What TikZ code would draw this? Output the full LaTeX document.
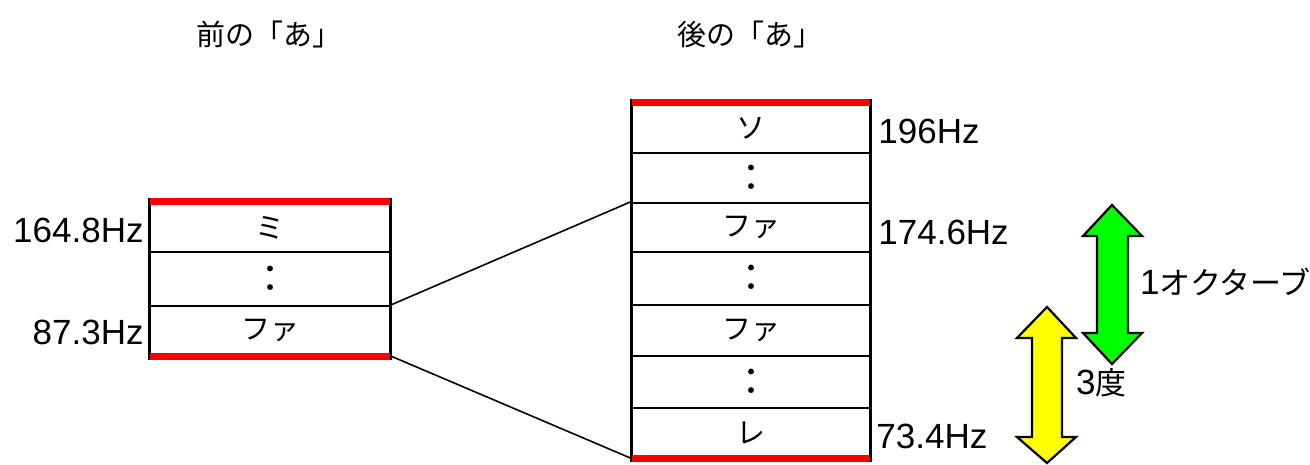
\documentclass[tikz,border=0pt]{standalone}
\usepackage{fontspec}
\setmainfont{Noto Sans CJK JP}
\newfontfamily\lat{Liberation Sans}
\begin{document}
\begin{tikzpicture}[x=1pt,y=-1pt,
  cell/.style={draw=black,line width=2.4pt,inner sep=0pt,font=\fontsize{29}{32}\selectfont},
  lcell/.style={cell,minimum width=240pt},
  rcell/.style={cell,minimum width=238pt},
  redline/.style={draw=red,line width=7pt},
  edge/.style={draw=black,line width=2.4pt},
  conn/.style={draw=black,line width=1.6pt},
  hz/.style={inner sep=0pt,font=\lat\fontsize{35}{38}\selectfont},
  jp/.style={inner sep=0pt,font=\fontsize{29}{32}\selectfont},
  jpl/.style={inner sep=0pt,font=\fontsize{31}{34}\selectfont},
  dots/.style={font=\fontsize{38}{40}\selectfont},
  arrowshape/.style={draw=black,line width=2.2pt,line join=miter}
]
\useasboundingbox (0,0) rectangle (1310,465);
% titles
\node[jp] (T1) at (269,34) {前の「あ」};
\node[jp] (T2) at (750,34) {後の「あ」};
% left column
\node[lcell,minimum height=49pt] (L1) at (270,227.5) {ミ};
\node[lcell,minimum height=54pt,dots] (L2) at (270,279) {：};
\node[lcell,minimum height=49pt] (L3) at (270,330.5) {ファ};
% right column
\node[rcell,minimum height=49pt] (R1) at (751,128.5) {ソ};
\node[rcell,minimum height=50pt,dots] (R2) at (751,178) {：};
\node[rcell,minimum height=49pt] (R3) at (751,227.5) {ファ};
\node[rcell,minimum height=53pt,dots] (R4) at (751,278.5) {：};
\node[rcell,minimum height=51pt] (R5) at (751,330.5) {ファ};
\node[rcell,minimum height=52pt,dots] (R6) at (751,382) {：};
\node[rcell,minimum height=49pt] (R7) at (751,432.5) {レ};
% red bounds
\draw[redline] (L1.north west) -- (L1.north east);
\draw[redline] (L3.south west) -- (L3.south east);
\draw[redline] (R1.north west) -- (R1.north east);
\draw[redline] (R7.south west) -- (R7.south east);
\draw[edge] ([yshift=3.5pt]L1.north west) -- ([yshift=-3.5pt]L3.south west);
\draw[edge] ([yshift=3.5pt]L1.north east) -- ([yshift=-3.5pt]L3.south east);
\draw[edge] ([yshift=3.5pt]R1.north west) -- ([yshift=-3.5pt]R7.south west);
\draw[edge] ([yshift=3.5pt]R1.north east) -- ([yshift=-3.5pt]R7.south east);
% connectors
\draw[conn] (L3.north east) -- (R3.north west);
\draw[conn] (L3.south east) -- (R7.south west);
% frequency labels
\node[hz,anchor=east] (f1) at ([xshift=-5pt,yshift=-3pt]L1.west) {164.8Hz};
\node[hz,anchor=east] (f2) at ([xshift=-5pt,yshift=-1.5pt]L3.west) {87.3Hz};
\node[hz,anchor=west] (f3) at ([xshift=7pt,yshift=-2.5pt]R1.east) {196Hz};
\node[hz,anchor=west] (f4) at ([xshift=7pt,yshift=-4.5pt]R3.east) {174.6Hz};
\node[hz,anchor=west] (f5) at ([xshift=5pt,yshift=-3.5pt]R7.east) {73.4Hz};
% interval arrows
\draw[arrowshape,fill={rgb,255:red,0;green,255;blue,0}]
  (1112,205) -- (1142,236) -- (1128,236) -- (1128,333) -- (1142,333) -- (1112,364)
  -- (1083,333) -- (1097,333) -- (1097,236) -- (1083,236) -- cycle;
\draw[arrowshape,fill={rgb,255:red,255;green,255;blue,0}]
  (1047,307) -- (1076,338) -- (1062,338) -- (1062,437) -- (1076,437) -- (1047,463)
  -- (1017,437) -- (1032,437) -- (1032,338) -- (1017,338) -- cycle;
\node[jpl,anchor=west] (oct) at (1140,282) {{\lat\fontsize{35}{38}\selectfont 1}オクターブ};
\node[jpl,anchor=west] (third) at (1076,383) {{\lat\fontsize{35}{38}\selectfont 3}度};
\end{tikzpicture}
\end{document}
